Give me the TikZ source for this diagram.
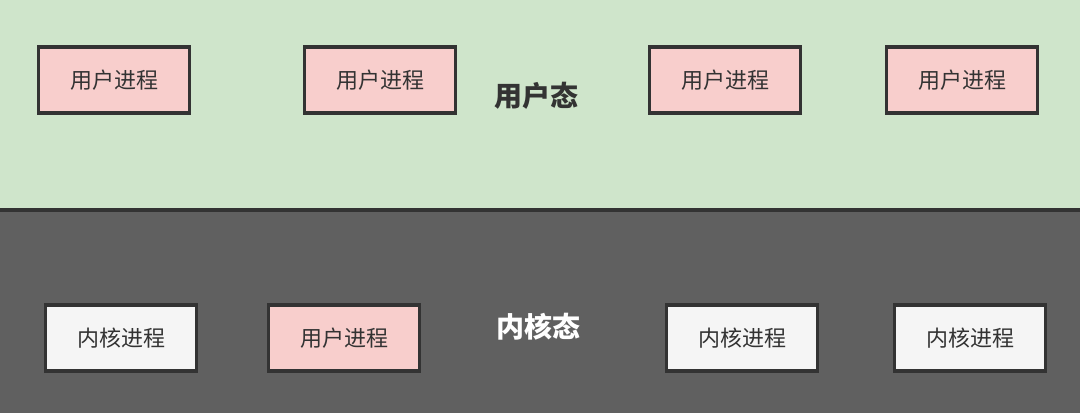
\documentclass[tikz,border=0pt]{standalone}
\usepackage{fontspec}
\setmainfont{Noto Sans CJK SC}
\usepackage{xcolor}
\definecolor{userbg}{HTML}{CFE5CB}
\definecolor{kernbg}{HTML}{606060}
\definecolor{userfill}{HTML}{F8CECC}
\definecolor{kernfill}{HTML}{F5F5F5}
\definecolor{edge}{HTML}{333333}
\begin{document}
\begin{tikzpicture}
		[x=0.75pt,y=-0.75pt,
		proc/.style={draw=edge,line width=2.3pt,minimum width=113pt,minimum height=49.5pt,inner sep=0pt,font=\fontsize{16.5}{19}\selectfont,text=edge},
		userproc/.style={proc,fill=userfill},
		kernproc/.style={proc,fill=kernfill},
		modelabel/.style={font=\fontsize{21}{24}\selectfont\bfseries,inner sep=0pt}]
		\useasboundingbox (0,0) rectangle (1080,413);
		\fill[userbg] (0,0) rectangle (1080,210);
		\fill[kernbg] (0,210) rectangle (1080,413);
		\coordinate (sepL) at (0,210);
		\coordinate (sepR) at (1080,210);
		\draw[edge,line width=2.3pt] (sepL) -- (sepR);
		% user space
		\node[userproc] (u1) at (114,80) {用户进程};
		\node[userproc] (u2) at (380,80) {用户进程};
		\node[userproc] (u3) at (725,80) {用户进程};
		\node[userproc] (u4) at (962,80) {用户进程};
		\node[modelabel,text=edge] (user) at (536,96) {用户态};
		% kernel space
		\node[kernproc] (k1) at (121,338) {内核进程};
		\node[userproc] (k2) at (344,338) {用户进程};
		\node[kernproc] (k3) at (742,338) {内核进程};
		\node[kernproc] (k4) at (970,338) {内核进程};
		\node[modelabel,text=white] (kernel) at (538,327) {内核态};
\end{tikzpicture}
\end{document}
